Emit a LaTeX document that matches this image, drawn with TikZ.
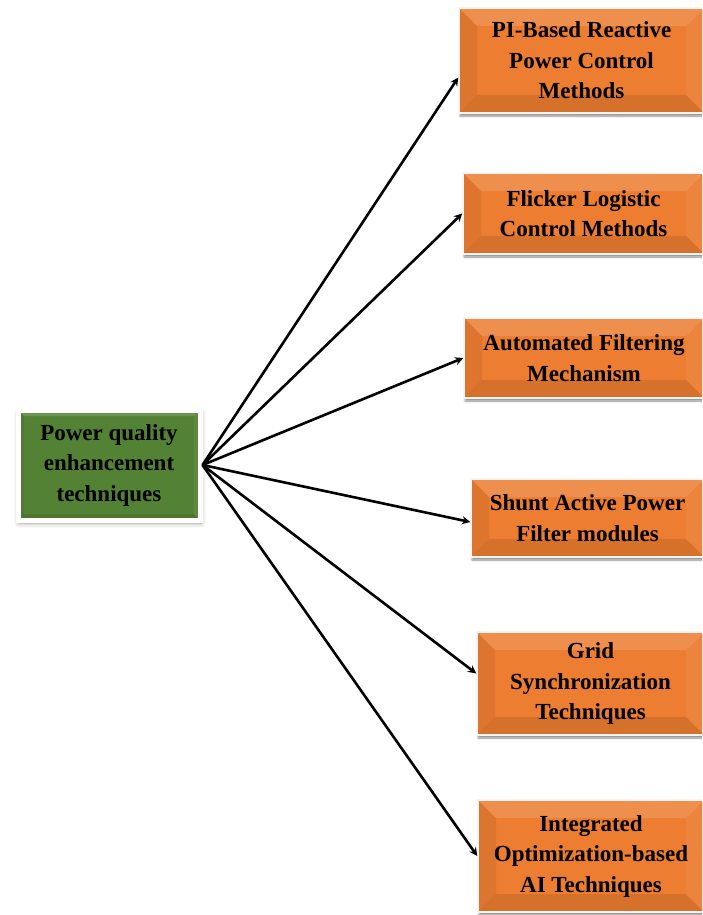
\documentclass[tikz,border=0pt]{standalone}
\usepackage{fontspec}
\setmainfont{Liberation Serif}
\usetikzlibrary{shadows.blur}

\definecolor{boxorange}{RGB}{236,125,49}
\definecolor{boxgreen}{RGB}{84,130,53}

\tikzset{
    bevel/.style={path picture={
        \coordinate (bnw) at (path picture bounding box.north west);
        \coordinate (bse) at (path picture bounding box.south east);
        \coordinate (bne) at (bnw -| bse);
        \coordinate (bsw) at (bnw |- bse);
        \fill[white, opacity=.14] (bnw) -- (bne) -- ([xshift=-#1, yshift=-#1]bne) -- ([xshift=#1, yshift=-#1]bnw) -- cycle;
        \fill[black, opacity=.06] (bnw) -- ([xshift=#1, yshift=-#1]bnw) -- ([xshift=#1, yshift=#1]bsw) -- (bsw) -- cycle;
        \fill[black, opacity=.09] (bsw) -- ([xshift=#1, yshift=#1]bsw) -- ([xshift=-#1, yshift=#1]bse) -- (bse) -- cycle;
        \fill[white, opacity=.06] (bne) -- (bse) -- ([xshift=-#1, yshift=#1]bse) -- ([xshift=-#1, yshift=-#1]bne) -- cycle;
    }}
}

\begin{document}
\begin{tikzpicture}[x=1pt, y=-1pt, >=stealth]
    \tikzstyle{format} = [font=\fontsize{23}{30.5}\selectfont\bfseries, align=center, inner sep=0pt]
    \tikzstyle{method} = [format, fill=boxorange, draw=white!96!black, line width=1.5pt, bevel=18pt,
        blur shadow={shadow xshift=1pt, shadow yshift=-3pt, shadow blur radius=2pt, shadow opacity=45}]
    \tikzstyle{root} = [format, fill=boxgreen, draw=white, line width=5pt, bevel=6pt,
        blur shadow={shadow xshift=1pt, shadow yshift=-3pt, shadow blur radius=5pt, shadow opacity=40}]
    \tikzstyle{link} = [draw=black, line width=2.6pt, ->]

    \useasboundingbox (0,0) rectangle (702,915);
    \clip (0,0) rectangle (702,915);

    \begin{scope}
        \path
            node[root, minimum width=182pt, minimum height=110pt] (Q) at (109,465) {Power quality\\enhancement\\techniques}

            node[method, minimum width=245pt, minimum height=105pt] (PI) at (581.5,60.5) {PI-Based Reactive\\Power Control\\Methods}
            node[method, minimum width=241pt, minimum height=81pt] (FL) at (583.5,213.5) {Flicker Logistic\\Control Methods}
            node[method, minimum width=240pt, minimum height=80pt] (AF) at (584,358) {Automated Filtering\\Mechanism}
            node[method, minimum width=233pt, minimum height=78pt] (SA) at (587.5,518) {Shunt Active Power\\Filter modules}
            node[method, minimum width=227pt, minimum height=103pt] (GS) at (590.5,683.5) {Grid\\Synchronization\\Techniques}
            node[method, minimum width=226pt, minimum height=112pt] (AI) at (591,856) {Integrated\\Optimization-based\\AI Techniques}

            (Q.east) edge[link] ([yshift=-17pt]PI.west)
            (Q.east) edge[link] (FL.west)
            (Q.east) edge[link] (AF.west)
            (Q.east) edge[link] ([yshift=-4pt]SA.west)
            (Q.east) edge[link] ([yshift=10pt]GS.west)
            (Q.east) edge[link] (AI.west)
        ;
    \end{scope}
\end{tikzpicture}
\end{document}
